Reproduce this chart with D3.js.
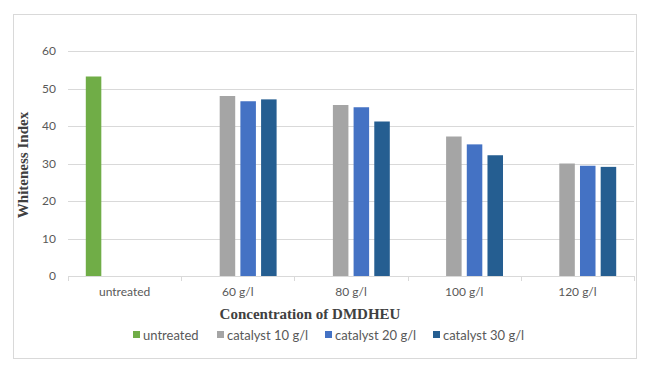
<!DOCTYPE html>
<html><head><meta charset="utf-8">
<script src="https://cdn.jsdelivr.net/npm/d3@7"></script>
<style>body{margin:0;background:#fff;}svg{display:block;}</style>
</head><body>
<svg id="c" width="646" height="371"></svg>
<script>
const categories = ["untreated", "60 g/l", "80 g/l", "100 g/l", "120 g/l"];
const seriesNames = ["untreated", "catalyst 10 g/l", "catalyst 20 g/l", "catalyst 30 g/l"];
const untreated = [53.2, null, null, null, null];
const catalyst10 = [null, 48.0, 45.6, 37.2, 30.0];
const catalyst20 = [null, 46.6, 45.0, 35.1, 29.4];
const catalyst30 = [null, 47.1, 41.2, 32.2, 29.1];
const yTicks = [0, 10, 20, 30, 40, 50, 60];
const colors = ["#70AD47", "#A5A5A5", "#4472C4", "#255E91"];
const seriesValues = [untreated, catalyst10, catalyst20, catalyst30];

const svg = d3.select("#c");
svg.append("rect").attr("x",13.5).attr("y",14.5).attr("width",623).attr("height",344)
  .attr("fill","#fff").attr("stroke","#d9d9d9").attr("stroke-width",1);

const m = {left:68, right:634, top:51, bottom:276};
const x0 = d3.scaleBand().domain(categories).range([m.left, m.right]).padding(0);
const x1 = d3.scaleBand().domain(seriesNames).range([0, x0.bandwidth()]).paddingInner(0.25).paddingOuter(0.86);
const y = d3.scaleLinear().domain([0,60]).range([m.bottom, m.top]);

// gridlines
svg.append("g").selectAll("line").data(yTicks.filter(d=>d>0)).join("line")
  .attr("x1",m.left).attr("x2",m.right).attr("y1",d=>Math.round(y(d))+0.5).attr("y2",d=>Math.round(y(d))+0.5)
  .attr("stroke","#d9d9d9").attr("stroke-width",1);

// y labels
svg.append("g").selectAll("text").data(yTicks).join("text")
  .attr("x",56).attr("y",d=>y(d)).attr("dy","0.35em").attr("text-anchor","end")
  .attr("font-family","Lato, 'Liberation Sans', sans-serif").attr("font-size",12).attr("fill","#595959")
  .text(d=>d);

// bars
const gCat = svg.append("g").selectAll("g").data(categories).join("g")
  .attr("transform",c=>`translate(${x0(c)},0)`);
gCat.selectAll("rect").data((c,i)=>seriesNames.map((s,j)=>({s, j, v:seriesValues[j][i]})).filter(d=>d.v!=null))
  .join("rect")
  .attr("x",d=>x1(d.s)).attr("width",x1.bandwidth())
  .attr("y",d=>y(d.v)).attr("height",d=>y(0)-y(d.v))
  .attr("fill",d=>colors[d.j]);

// x axis
const xAxis = d3.axisBottom(x0).tickSize(0).tickPadding(11);
const ax = svg.append("g").attr("transform",`translate(0,${m.bottom})`).call(xAxis);
ax.select(".domain").attr("stroke","#d9d9d9").attr("d",`M${m.left},0.5H${m.right}`);
ax.selectAll("text").attr("font-family","Lato, 'Liberation Sans', sans-serif").attr("font-size",12).attr("fill","#595959");
// boundary ticks
const bounds = categories.map(c=>x0(c)).concat([m.right]);
svg.append("g").selectAll("line").data(bounds).join("line")
  .attr("x1",d=>Math.round(d)+0.5).attr("x2",d=>Math.round(d)+0.5).attr("y1",m.bottom).attr("y2",m.bottom+5)
  .attr("stroke","#d9d9d9");

// axis titles
svg.append("text").attr("x",310).attr("y",319).attr("text-anchor","middle")
  .attr("font-family","'Liberation Serif', 'Times New Roman', serif").attr("font-weight","bold")
  .attr("font-size",15).attr("fill","#404040").text("Concentration of DMDHEU");
svg.append("text").attr("transform","translate(28,165) rotate(-90)").attr("text-anchor","middle")
  .attr("font-family","'Liberation Serif', 'Times New Roman', serif").attr("font-weight","bold")
  .attr("font-size",15).attr("fill","#404040").text("Whiteness Index");

// legend
const legendX = [133, 217, 325, 433];
const lg = svg.append("g").selectAll("g").data(seriesNames).join("g")
  .attr("transform",(d,i)=>`translate(${legendX[i]},331)`);
lg.append("rect").attr("width",7).attr("height",7).attr("fill",(d,i)=>colors[i]);
lg.append("text").attr("x",10).attr("y",4).attr("dy","0.35em")
  .attr("font-family","Lato, 'Liberation Sans', sans-serif").attr("font-size",13).attr("fill","#595959")
  .text(d=>d);
</script>
</body></html>
